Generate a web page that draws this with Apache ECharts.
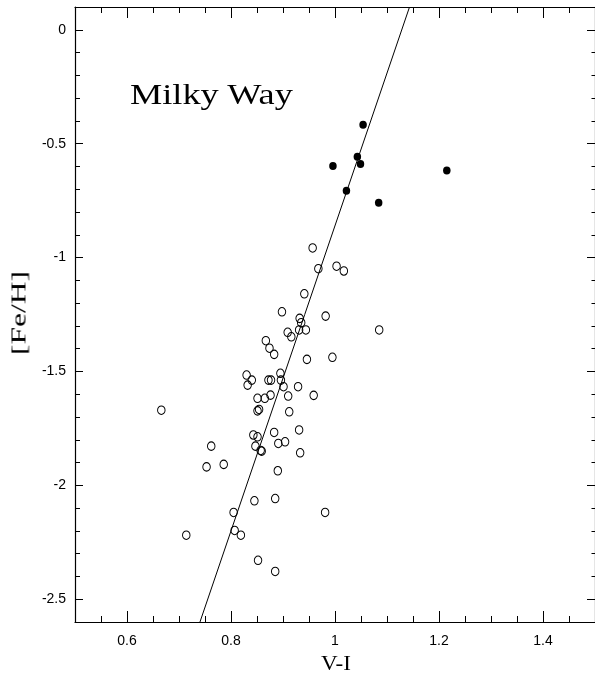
<!DOCTYPE html>
<html><head><meta charset="utf-8">
<script src="https://cdn.jsdelivr.net/npm/echarts@6/dist/echarts.min.js"></script>
<style>
html,body{margin:0;padding:0;background:#fff}
#wrap{position:relative;width:595px;height:679px}
#c{position:absolute;left:0;top:0;width:595px;height:679px}
.t{position:absolute;font-family:"Liberation Serif",serif;color:#000;white-space:nowrap;line-height:1}
#title{left:130px;top:79px;font-size:30px;transform:scaleX(1.21);transform-origin:0 50%}
#ylab{left:19px;top:313px;font-size:21px;transform:translate(-50%,-50%) rotate(-90deg) scaleX(1.5)}
#xlab{left:336px;top:663px;font-size:21px;transform:translate(-50%,-50%) scaleX(1.1)}
</style>
</head><body><div id="wrap"><div id="c"></div>
<div class="t" id="title">Milky Way</div>
<div class="t" id="ylab">[Fe/H]</div>
<div class="t" id="xlab">V-I</div>
</div>
<script>
// Open circles (V-I, [Fe/H])
const openVI = [0.957,0.968,1.003,1.017,0.941,0.898,0.982,0.932,0.935,0.931,0.944,0.909,0.916,1.085,0.867,0.874,0.883,0.946,0.995,0.895,0.830,0.840,0.832,0.872,0.877,0.896,0.901,0.929,0.851,0.865,0.876,0.910,0.959,0.851,0.854,0.912,0.666,0.843,0.851,0.847,0.857,0.859,0.883,0.931,0.891,0.904,0.933,0.762,0.786,0.753,0.890,0.845,0.885,0.805,0.981,0.807,0.819,0.714,0.852,0.885];
const openFeH = [-0.958,-1.049,-1.038,-1.059,-1.159,-1.238,-1.257,-1.267,-1.286,-1.318,-1.318,-1.328,-1.348,-1.318,-1.365,-1.398,-1.425,-1.447,-1.438,-1.508,-1.516,-1.538,-1.560,-1.538,-1.538,-1.538,-1.567,-1.567,-1.618,-1.618,-1.604,-1.608,-1.605,-1.673,-1.667,-1.677,-1.670,-1.779,-1.787,-1.828,-1.847,-1.850,-1.768,-1.757,-1.816,-1.809,-1.857,-1.828,-1.908,-1.919,-1.936,-2.068,-2.058,-2.119,-2.119,-2.198,-2.219,-2.219,-2.329,-2.378];
// Filled circles
const filledVI = [1.054,1.043,1.049,0.996,1.022,1.084,1.215];
const filledFeH = [-0.417,-0.557,-0.589,-0.598,-0.707,-0.759,-0.618];
// Fitted line end points
const fitVI = [0.7403, 1.1433];
const fitFeH = [-2.6, 0.1];
// Labelled (major) tick range and step
const xMajor = {min: 0.6, max: 1.4, step: 0.2};
const yMajor = {min: -2.5, max: 0, step: 0.5};

const X_MIN = 0.5, X_MAX = 1.5, Y_MIN = -2.6, Y_MAX = 0.1;
const zip = (a, b) => a.map((v, i) => [v, b[i]]);
const labelFont = {fontFamily: 'Liberation Sans', fontSize: 14, color: '#000'};

// pixel geometry of the plot frame
const L = 75, R = 0, T = 7, B = 57, W = 595 - L - R, H = 679 - T - B;
const pxX = W / (X_MAX - X_MIN), pxY = H / (Y_MAX - Y_MIN);
const gMain = {left: L, right: R, top: T, bottom: B, containLabel: false};
const gXMajor = {left: L + (xMajor.min - X_MIN) * pxX, right: R + (X_MAX - xMajor.max) * pxX, top: T, bottom: B, containLabel: false};
const gYMajor = {left: L, right: R, top: T + (Y_MAX - yMajor.max) * pxY, bottom: B + (yMajor.min - Y_MIN) * pxY, containLabel: false};

function frameX(pos) {
  return {type: 'value', gridIndex: 0, position: pos, min: X_MIN, max: X_MAX, interval: 0.05,
    axisLine: {show: true, onZero: false, lineStyle: {color: '#000', width: 1.2}},
    axisTick: {show: true, inside: true, length: 6, lineStyle: {color: '#000'}},
    axisLabel: {show: false}, splitLine: {show: false}};
}
function frameY(pos) {
  return {type: 'value', gridIndex: 0, position: pos, min: Y_MIN, max: Y_MAX, interval: 0.1,
    axisLine: {show: true, onZero: false, lineStyle: {color: '#000', width: 1.2}},
    axisTick: {show: true, inside: true, length: pos === 'left' ? 5 : 3.5, lineStyle: {color: '#000'}},
    axisLabel: {show: false}, splitLine: {show: false}};
}
function majorX(pos) {
  return {type: 'value', gridIndex: 1, position: pos, min: xMajor.min, max: xMajor.max, interval: xMajor.step,
    axisLine: {show: false, onZero: false},
    axisTick: {show: true, inside: true, length: 11, lineStyle: {color: '#000'}},
    axisLabel: pos === 'bottom' ? Object.assign({show: true, margin: 12}, labelFont) : {show: false},
    splitLine: {show: false}};
}
function majorY(pos) {
  return {type: 'value', gridIndex: 2, position: pos, min: yMajor.min, max: yMajor.max, interval: yMajor.step,
    axisLine: {show: false, onZero: false},
    axisTick: {show: true, inside: true, length: 8, lineStyle: {color: '#000'}},
    axisLabel: pos === 'left' ? Object.assign({show: true, margin: 9}, labelFont) : {show: false},
    splitLine: {show: false}};
}

const chart = echarts.init(document.getElementById('c'));
chart.setOption({
  animation: false,
  grid: [gMain, gXMajor, gYMajor],
  xAxis: [frameX('bottom'), frameX('top'), majorX('bottom'), majorX('top'),
          {type: 'value', gridIndex: 2, show: false, min: 0, max: 1}],
  yAxis: [frameY('left'), frameY('right'),
          {type: 'value', gridIndex: 1, show: false, min: 0, max: 1},
          majorY('left'), majorY('right')],
  series: [
    {type: 'line', xAxisIndex: 0, yAxisIndex: 0, data: zip(fitVI, fitFeH), symbol: 'none', showSymbol: false,
     lineStyle: {color: '#000', width: 1}, silent: true},
    {type: 'scatter', xAxisIndex: 0, yAxisIndex: 0, data: zip(openVI, openFeH), symbol: 'circle', symbolSize: [7.5, 8.5],
     itemStyle: {color: 'rgba(0,0,0,0)', borderColor: '#000', borderWidth: 1, opacity: 1}, silent: true},
    {type: 'scatter', xAxisIndex: 0, yAxisIndex: 0, data: zip(filledVI, filledFeH), symbol: 'circle', symbolSize: [7.5, 8],
     itemStyle: {color: '#000', opacity: 1}, silent: true}
  ]
});
</script></body></html>
